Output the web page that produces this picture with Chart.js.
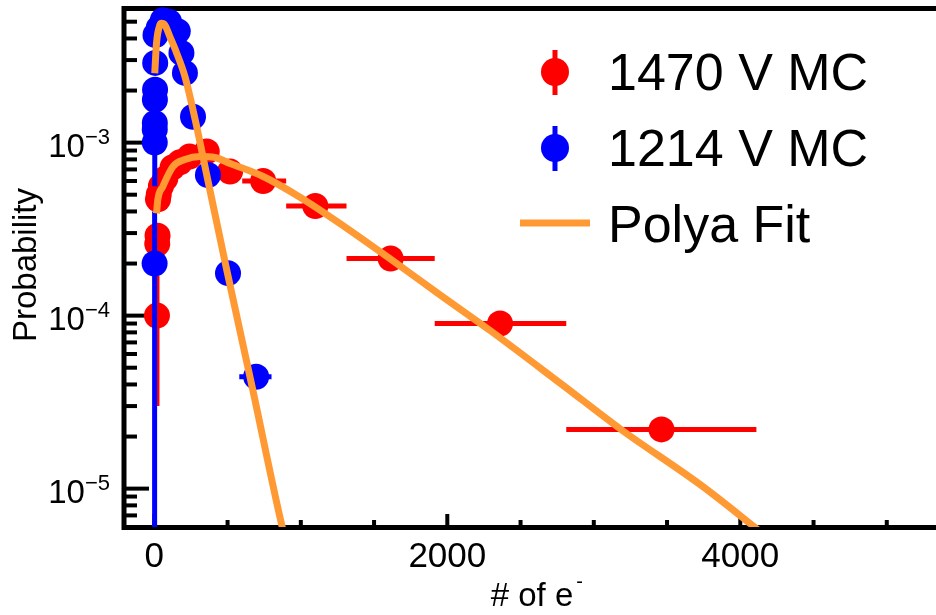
<!DOCTYPE html>
<html>
<head>
<meta charset="utf-8">
<script src="https://cdn.jsdelivr.net/npm/chart.js@4.4.1/dist/chart.umd.min.js"></script>
<style>
html, body { margin: 0; padding: 0; background: #fff; }
#wrap { width: 936px; height: 615px; }
</style>
</head>
<body>
<div id="wrap"><canvas id="chartpolya" width="936" height="615"></canvas></div>
<script>
// 1470 V MC (red)
var redX = [18, 20, 22, 25, 30, 45, 75, 125, 175, 240, 358, 517, 743, 1099, 1613, 2360, 3462];
var redY = [1.0e-4, 2.6e-4, 2.9e-4, 4.7e-4, 5.0e-4, 5.6e-4, 6.2e-4, 7.2e-4, 7.7e-4, 8.3e-4, 8.9e-4, 6.8e-4, 6.0e-4, 4.3e-4, 2.14e-4, 9.0e-5, 2.2e-5];
var redXLo = [16, 19, 21, 23, 27, 38, 55, 100, 150, 205, 290, 430, 600, 900, 1312, 1914, 2812];
var redXHi = [19, 21, 23, 27, 38, 55, 100, 150, 205, 290, 430, 600, 900, 1312, 1914, 2812, 4110];
var redYErr = [7.0e-5, 3e-5, 3e-5, 3e-5, 3e-5, 3e-5, 3e-5, 3e-5, 3e-5, 3e-5, 3e-5, 3e-5, 3e-5, 2e-5, 1e-5, 5e-6, 2e-6];

// 1214 V MC (blue)
var blueX = [2, 3, 3, 3.5, 4, 5, 6, 8, 30, 58, 100, 160, 185, 209, 264, 366, 503, 695];
var blueY = [2.0e-4, 1.0e-3, 1.19e-3, 1.3e-3, 1.77e-3, 2.02e-3, 2.89e-3, 4.19e-3, 4.6e-3, 5.1e-3, 5.0e-3, 4.4e-3, 3.3e-3, 2.53e-3, 1.41e-3, 6.5e-4, 1.76e-4, 4.43e-5];
var blueXLo = [1, 2, 2, 3, 3, 4, 5, 6, 20, 40, 80, 140, 175, 200, 240, 330, 450, 580];
var blueXHi = [3, 4, 4, 4, 5, 6, 7, 10, 40, 80, 120, 175, 200, 225, 290, 400, 560, 800];
var blueYErr = [2.0e-4, 4.4e-4, 1e-4, 1e-4, 1e-4, 1e-4, 1e-4, 1e-4, 1e-4, 1e-4, 1e-4, 1e-4, 1e-4, 1e-4, 8e-5, 5e-5, 2e-5, 5e-6];

// Polya fits
var fitRedX = [15, 24, 58, 127, 209, 312, 414, 517, 743, 997, 1305, 1613, 1955, 2297, 2777, 3188, 3736, 4092, 4200];
var fitRedY = [3.9e-4, 4.69e-4, 5.57e-4, 7.27e-4, 7.98e-4, 8.3e-4, 8.2e-4, 7.57e-4, 6.37e-4, 4.82e-4, 3.24e-4, 2.12e-4, 1.31e-4, 8.15e-5, 4.03e-5, 2.19e-5, 1.04e-5, 6.04e-6, 5.1e-6];
var fitBlueX = [3, 15, 38, 49, 72, 106, 152, 209, 289, 360, 490, 668, 873, 900];
var fitBlueY = [2.52e-3, 3.77e-3, 4.79e-3, 4.9e-3, 4.79e-3, 4.1e-3, 3.3e-3, 2.41e-3, 1.24e-3, 6.37e-4, 1.91e-4, 3.87e-5, 6.0e-6, 4.9e-6];

var xTickLabels = ["0", "2000", "4000"];
var yTickExps = [-3, -4, -5];
var legendLabels = ["1470 V MC", "1214 V MC", "Polya Fit"];

var RED = "#ff0000", BLUE = "#0000ff", ORANGE = "rgb(255,153,51)";
var FONT = "'Liberation Sans', Arial, sans-serif";

function pts(xs, ys) {
	var out = [];
	for (var i = 0; i < xs.length; i++) out.push({ x: xs[i], y: ys[i] });
	return out;
}

var errorBars = {
	id: "errorBars",
	beforeDatasetDraw: function (chart, args) {
		var ds = chart.data.datasets[args.index];
		if (!ds.errors) return;
		var xs = chart.scales.x, ys = chart.scales.y, a = chart.chartArea, ctx = chart.ctx;
		var e = ds.errors;
		ctx.save();
		ctx.beginPath();
		ctx.rect(a.left, a.top, a.right - a.left, a.bottom - a.top);
		ctx.clip();
		ctx.strokeStyle = ds.backgroundColor;
		ctx.lineWidth = 5;
		for (var i = 0; i < ds.data.length; i++) {
			var d = ds.data[i];
			var px = xs.getPixelForValue(d.x), py = ys.getPixelForValue(d.y);
			var lo = d.y - e.yErr[i];
			var pyLo = lo > 0 ? ys.getPixelForValue(lo) : a.bottom + 5;
			var pyHi = ys.getPixelForValue(d.y + e.yErr[i]);
			ctx.beginPath();
			ctx.moveTo(xs.getPixelForValue(e.xLo[i]), py);
			ctx.lineTo(xs.getPixelForValue(e.xHi[i]), py);
			ctx.moveTo(px, pyLo);
			ctx.lineTo(px, pyHi);
			ctx.stroke();
		}
		ctx.restore();
	}
};

var frameAxes = {
	id: "frameAxes",
	beforeDatasetsDraw: function (chart) {
		var xs = chart.scales.x, ys = chart.scales.y, a = chart.chartArea, ctx = chart.ctx;
		ctx.save();
		ctx.strokeStyle = "#000";
		ctx.fillStyle = "#000";
		// frame
		ctx.lineWidth = 5;
		ctx.beginPath();
		ctx.moveTo(940, a.top + 0.5);
		ctx.lineTo(a.left, a.top + 0.5);
		ctx.lineTo(a.left, a.bottom + 0.5);
		ctx.lineTo(940, a.bottom + 0.5);
		ctx.stroke();
		// y ticks (inside)
		ctx.lineWidth = 4;
		for (var p = -6; p <= -3; p++) {
			for (var m = 1; m <= 9; m++) {
				var v = m * Math.pow(10, p);
				if (v <= ys.min || v >= ys.max) continue;
				var py = ys.getPixelForValue(v);
				var len = m === 1 ? 25 : 13;
				ctx.beginPath();
				ctx.moveTo(a.left, py);
				ctx.lineTo(a.left + len, py);
				ctx.stroke();
			}
		}
		// x ticks (inside)
		for (var xv = 0; xv < xs.max; xv += 500) {
			var px = xs.getPixelForValue(xv);
			var l = xv % 2000 === 0 ? 13 : 7;
			ctx.beginPath();
			ctx.moveTo(px, a.bottom);
			ctx.lineTo(px, a.bottom - l);
			ctx.stroke();
		}
		// x tick labels
		ctx.font = "35px " + FONT;
		ctx.textAlign = "center";
		ctx.textBaseline = "alphabetic";
		for (var i = 0; i < xTickLabels.length; i++) {
			var val = parseFloat(xTickLabels[i]);
			ctx.fillText(xTickLabels[i], xs.getPixelForValue(val), 567);
		}
		// y tick labels 10^n
		for (var j = 0; j < yTickExps.length; j++) {
			var ty = ys.getPixelForValue(Math.pow(10, yTickExps[j]));
			var sup = "\u2212" + Math.abs(yTickExps[j]);
			ctx.font = "22px " + FONT;
			var sw = ctx.measureText(sup).width;
			ctx.textAlign = "left";
			ctx.fillText(sup, 110 - sw, ty + 1);
			ctx.font = "33px " + FONT;
			ctx.textAlign = "right";
			ctx.fillText("10", 110 - sw, ty + 14);
		}
		// axis titles
		ctx.font = "33px " + FONT;
		ctx.textAlign = "center";
		ctx.fillText("# of e", 532, 606);
		var tw = ctx.measureText("# of e").width;
		ctx.font = "20px " + FONT;
		ctx.textAlign = "left";
		ctx.fillText("-", 532 + tw / 2 + 3, 588);
		ctx.save();
		ctx.translate(36, 265);
		ctx.rotate(-Math.PI / 2);
		ctx.font = "33px " + FONT;
		ctx.textAlign = "center";
		ctx.fillText("Probability", 0, 0);
		ctx.restore();
		ctx.restore();
	},
	afterDraw: function (chart) {
		var ctx = chart.ctx;
		ctx.save();
		var cols = [RED, BLUE];
		var rows = [72, 148];
		for (var i = 0; i < 2; i++) {
			ctx.fillStyle = cols[i];
			ctx.strokeStyle = cols[i];
			ctx.lineWidth = 5;
			ctx.beginPath();
			ctx.moveTo(555, rows[i] - 22);
			ctx.lineTo(555, rows[i] + 23);
			ctx.stroke();
			ctx.beginPath();
			ctx.arc(555, rows[i], 14, 0, Math.PI * 2);
			ctx.fill();
		}
		ctx.strokeStyle = ORANGE;
		ctx.lineWidth = 7;
		ctx.beginPath();
		ctx.moveTo(520, 223);
		ctx.lineTo(590, 223);
		ctx.stroke();
		ctx.fillStyle = "#000";
		ctx.font = "52px " + FONT;
		ctx.textAlign = "left";
		ctx.textBaseline = "alphabetic";
		ctx.fillText(legendLabels[0], 608, 90);
		ctx.fillText(legendLabels[1], 608, 166);
		ctx.fillText(legendLabels[2], 608, 242);
		ctx.restore();
	}
};

var config = {
	type: "line",
	data: {
		datasets: [{
			label: "Polya Fit",
			data: pts(fitRedX, fitRedY),
			borderColor: ORANGE,
			borderWidth: 7,
			pointRadius: 0,
			cubicInterpolationMode: "monotone",
			clip: 0
		}, {
			label: "Polya Fit",
			data: pts(fitBlueX, fitBlueY),
			borderColor: ORANGE,
			borderWidth: 7,
			pointRadius: 0,
			cubicInterpolationMode: "monotone",
			clip: 0
		}, {
			label: legendLabels[1],
			data: pts(blueX, blueY),
			showLine: false,
			backgroundColor: BLUE,
			pointBackgroundColor: BLUE,
			pointBorderWidth: 0,
			pointRadius: 13,
			clip: false,
			errors: { xLo: blueXLo, xHi: blueXHi, yErr: blueYErr }
		}, {
			label: legendLabels[0],
			data: pts(redX, redY),
			showLine: false,
			backgroundColor: RED,
			pointBackgroundColor: RED,
			pointBorderWidth: 0,
			pointRadius: 13,
			clip: false,
			errors: { xLo: redXLo, xHi: redXHi, yErr: redYErr }
		}]
	},
	options: {
		responsive: false,
		animation: false,
		devicePixelRatio: 1,
		layout: { autoPadding: false, padding: { left: 124, top: 8, right: 0, bottom: 88 } },
		plugins: { legend: { display: false }, tooltip: { enabled: false } },
		events: [],
		scales: {
			x: { type: "linear", min: -207, max: 5336, display: false },
			y: { type: "logarithmic", min: 6e-6, max: 6e-3, display: false }
		}
	},
	plugins: [frameAxes, errorBars]
};

var chartctx = document.getElementById("chartpolya").getContext("2d");
window.chartpolya = new Chart(chartctx, config);
</script>
</body>
</html>
